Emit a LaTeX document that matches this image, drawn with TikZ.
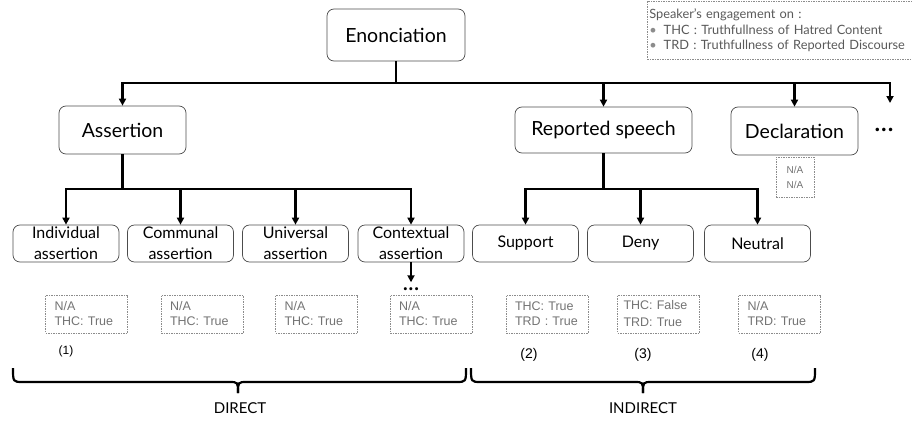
\documentclass[tikz,border=0pt]{standalone}
\usepackage{fontspec}
\setmainfont{Lato}
\newfontfamily\infofont{Liberation Sans}
\usetikzlibrary{arrows.meta}
\tikzset{
  box/.style={draw=black!70, line width=0.7pt, rounded corners=7pt,
    align=center, inner sep=0pt},
  top/.style={box, font=\fontsize{19.5}{22}\selectfont},
  leaf/.style={box, minimum width=106pt, minimum height=37pt,
    font=\fontsize{16}{21}\selectfont},
  conn/.style={line width=2.2pt},
  arr/.style={conn, -{Triangle[length=7pt,width=7pt]}},
  info/.style={draw=black!45, line width=0.6pt, dash pattern=on 1.5pt off 1pt,
    text=black!55, font=\infofont\fontsize{12.5}{15}\selectfont, align=left,
    inner xsep=6pt, inner ysep=0pt, text width=70pt, minimum height=38pt},
  more/.style={font=\fontsize{28}{28}\selectfont, inner sep=3pt},
  num/.style={font=\infofont\fontsize{14}{16}\selectfont},
  brace/.style={line width=2.2pt}
}
\begin{document}
\begin{tikzpicture}[x=1pt,y=-1pt]
  \useasboundingbox (0,0) rectangle (912,420);

  % legend
  \node[draw=black!45, line width=0.6pt, dash pattern=on 1.5pt off 1pt,
    anchor=north west, text=black!65, align=left, inner xsep=2pt,
    text width=262pt, minimum height=58pt,
    font=\fontsize{12.8}{15.5}\selectfont] (legend) at (647,1)
    {Speaker's engagement on :\\
     \textcolor{black!45}{\textbullet}\hspace{7pt}THC : Truthfullness of Hatred Content\\
     \textcolor{black!45}{\textbullet}\hspace{7pt}TRD : Truthfullness of Reported Discourse};

  % first level
  \node[top, minimum width=138pt, minimum height=52pt] (enon) at (396,35) {Enonciation};
  \node[top, minimum width=127pt, minimum height=48pt] (assert) at (122.5,130) {Assertion};
  \node[top, minimum width=177pt, minimum height=46pt] (rep) at (603.5,130) {Reported speech};
  \node[top, minimum width=127pt, minimum height=48pt] (decl) at (794.5,131) {Declaration};
  \node[more] (dots) at (884,130) {...};
  \coordinate (next) at (890,103);

  \foreach \c in {assert, rep, decl}
    \draw[arr] (enon.south) -- ++(0,22) -| (\c.north);
  \draw[arr] (enon.south) -- ++(0,22) -| (next);

  \node[info, text width=28pt, inner xsep=5pt, minimum height=40pt,
    align=center, font=\infofont\fontsize{10}{15}\selectfont]
    (decl-info) at (795,177) {N/A\\N/A};

  % second level
  \node[leaf] (indiv) at (66,243.5) {Individual\\assertion};
  \node[leaf] (commu) at (180.5,243.5) {Communal\\assertion};
  \node[leaf] (unive) at (295.5,243.5) {Universal\\assertion};
  \node[leaf] (conte) at (411,243.5) {Contextual\\assertion};
  \node[leaf] (suppo) at (525.5,243.5) {Support};
  \node[leaf] (deny) at (640.5,243.5) {Deny};
  \node[leaf] (neutr) at (757.5,243.5) {Neutral};

  \foreach \c in {indiv, commu, unive, conte}
    \draw[arr] (assert.south) -- ++(0,35) -| (\c.north);
  \foreach \c in {suppo, deny, neutr}
    \draw[arr] (rep.south) -- ++(0,36) -| (\c.north);

  \node[more, font=\fontsize{24}{24}\selectfont, inner sep=5pt] (cdots) at (411,289) {...};
  \draw[arr] (conte.south) -- (cdots.north);

  % engagement values
  \node[info] (i-indiv) at (86.5,314) {\hspace*{3pt}N/A\\\hspace*{3pt}THC: True};
  \node[info] (i-commu) at (202,314) {\hspace*{3pt}N/A\\\hspace*{3pt}THC: True};
  \node[info] (i-unive) at (316.5,314) {\hspace*{3pt}N/A\\\hspace*{3pt}THC: True};
  \node[info] (i-conte) at (431,314) {\hspace*{3pt}N/A\\\hspace*{3pt}THC: True};
  \node[info] (i-suppo) at (547,314) {\hspace*{3pt}THC: True\\\hspace*{3pt}TRD : True};
  \node[info] (i-deny) at (658.5,314) {THC: False\\[2pt]TRD: True};
  \node[info] (i-neutr) at (779.5,314) {\hspace*{3pt}N/A\\\hspace*{3pt}TRD: True};

  \node[num, font=\infofont\fontsize{12}{14}\selectfont] (n1) at (66,351) {(1)};
  \node[num] (n2) at (529,355) {(2)};
  \node[num] (n3) at (643,355) {(3)};
  \node[num] (n4) at (760,355) {(4)};

  % braces
  \foreach \a/\m/\b in {13/238/466, 471/643/815} {
    \draw[brace] (\a,368) .. controls (\a,382) .. (\a+10,382)
      -- (\m-9,382) .. controls (\m,382) .. (\m,393);
    \draw[brace] (\m,393) .. controls (\m,382) .. (\m+9,382)
      -- (\b-10,382) .. controls (\b,382) .. (\b,368);
  }
  \node[font=\fontsize{15}{17}\selectfont] (direct) at (240,408) {DIRECT};
  \node[font=\fontsize{15}{17}\selectfont] (indirect) at (643,408) {INDIRECT};
\end{tikzpicture}
\end{document}
